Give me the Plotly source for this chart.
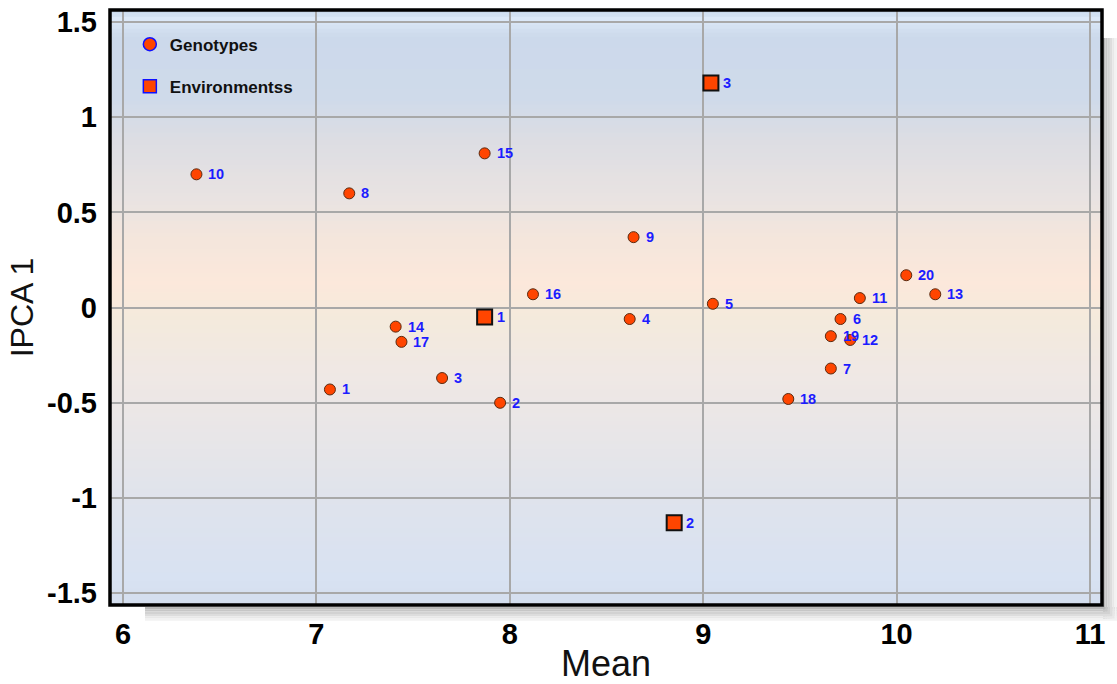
import plotly.graph_objects as go

# ---------------- data ----------------
geno_labels = ["1", "2", "3", "4", "5", "6", "7", "8", "9", "10",
               "11", "12", "13", "14", "15", "16", "17", "18", "19", "20"]
geno_mean = [7.07, 7.95, 7.65, 8.62, 9.05, 9.71, 9.66, 7.17, 8.64, 6.38,
             9.81, 9.76, 10.20, 7.41, 7.87, 8.12, 7.44, 9.44, 9.66, 10.05]
geno_ipca = [-0.43, -0.50, -0.37, -0.06, 0.02, -0.06, -0.32, 0.60, 0.37, 0.70,
             0.05, -0.17, 0.07, -0.10, 0.81, 0.07, -0.18, -0.48, -0.15, 0.17]

env_labels = ["1", "2", "3"]
env_mean = [7.87, 8.85, 9.04]
env_ipca = [-0.05, -1.13, 1.18]

x_ticks = [6, 7, 8, 9, 10, 11]
y_ticks = [-1.5, -1, -0.5, 0, 0.5, 1, 1.5]
y_tick_text = ["-1.5", "-1", "-0.5", "0", "0.5", "1", "1.5"]

W, H = 1117, 684
ML, MR, MT, MB = 110, 15, 10, 79
PW, PH = W - ML - MR, H - MT - MB

ORANGE = "#FF4500"
LABEL_BLUE = "#1C1CFF"
FONT = "Liberation Sans, Arial"

fig = go.Figure()

# legend-only dummies (blue outlines as in the reference legend)
fig.add_trace(go.Scatter(x=[None], y=[None], mode="markers", name="Genotypes",
                         legendgroup="g",
                         marker=dict(symbol="circle", size=13, color=ORANGE,
                                     line=dict(color="#1010FF", width=1.5))))
fig.add_trace(go.Scatter(x=[None], y=[None], mode="markers", name="Environmentss",
                         legendgroup="e",
                         marker=dict(symbol="square", size=13, color=ORANGE,
                                     line=dict(color="#1010FF", width=1.5))))

fig.add_trace(go.Scatter(x=geno_mean, y=geno_ipca, mode="markers", showlegend=False,
                         marker=dict(symbol="circle", size=11, color=ORANGE,
                                     line=dict(color="#5A2A10", width=1))))
fig.add_trace(go.Scatter(x=env_mean, y=env_ipca, mode="markers", showlegend=False,
                         marker=dict(symbol="square", size=15, color=ORANGE,
                                     line=dict(color="#111111", width=2))))

annotations = []
for xs, ys, ls in ((geno_mean, geno_ipca, geno_labels), (env_mean, env_ipca, env_labels)):
    for xv, yv, lab in zip(xs, ys, ls):
        annotations.append(dict(x=xv, y=yv, text=lab, showarrow=False,
                                xanchor="left", yanchor="middle", xshift=10,
                                font=dict(family=FONT, size=14.5,
                                          color=LABEL_BLUE, weight="bold")))

# ---------------- background gradient ----------------
def hex2rgb(h):
    h = h.lstrip("#")
    return tuple(int(h[i:i + 2], 16) for i in (0, 2, 4))

stops = [(10, "#C4D4E8"), (20, "#DCE9F8"), (38, "#CCD9EB"), (100, "#CFDAEA"),
         (140, "#DCDDE3"), (200, "#E9E3E2"), (240, "#F4E6DC"), (285, "#FCE8DB"),
         (320, "#F4EADC"), (370, "#F0E8E4"), (440, "#E8E6E8"), (500, "#DFE3EC"),
         (580, "#D8E2F2"), (605, "#D4DEEE")]

def color_at(py):
    for (p0, c0), (p1, c1) in zip(stops[:-1], stops[1:]):
        if p0 <= py <= p1:
            t = (py - p0) / (p1 - p0)
            a, b = hex2rgb(c0), hex2rgb(c1)
            return "rgb(%d,%d,%d)" % tuple(round(a[i] + (b[i] - a[i]) * t) for i in range(3))
    return stops[-1][1]

shapes = []
step = 4
py = MT
while py < MT + PH:
    y_top = 1 - (py - MT) / PH
    y_bot = max(0, 1 - (py + step - MT) / PH)
    shapes.append(dict(type="rect", xref="paper", yref="paper", x0=0, x1=1,
                       y0=y_bot, y1=y_top + 0.002, fillcolor=color_at(py + step / 2),
                       line=dict(width=0), layer="below"))
    py += step

# drop shadow (right and bottom)
def px_x(p):
    return (p - ML) / PW

def px_y(p):
    return 1 - (p - MT) / PH

shadow_cols = ["#B8B8B8", "#C6C6C6", "#D2D2D2", "#DDDDDD", "#E8E8E8", "#F2F2F2"]
for i, c in enumerate(shadow_cols):
    shapes.append(dict(type="rect", xref="paper", yref="paper",
                       x0=px_x(1103 + i * 2.3), x1=px_x(1103 + (i + 1) * 2.3),
                       y0=px_y(620), y1=px_y(38), fillcolor=c, line=dict(width=0),
                       layer="below"))
    shapes.append(dict(type="rect", xref="paper", yref="paper",
                       x0=px_x(145), x1=px_x(1117),
                       y0=px_y(607 + (i + 1) * 2.3), y1=px_y(607 + i * 2.3),
                       fillcolor=c, line=dict(width=0), layer="below"))

# frame
shapes.append(dict(type="rect", xref="paper", yref="paper", x0=0, x1=1, y0=0, y1=1,
                   line=dict(color="#000000", width=3.5), fillcolor="rgba(0,0,0,0)",
                   layer="above"))

tick_font = dict(family=FONT, size=29, color="#000000", weight="bold")

fig.update_layout(
    width=W, height=H,
    margin=dict(l=ML, r=MR, t=MT, b=MB, autoexpand=False),
    paper_bgcolor="#FFFFFF",
    plot_bgcolor="rgba(0,0,0,0)",
    shapes=shapes,
    annotations=annotations,
    showlegend=True,
    legend=dict(x=0.02, y=0.972, xanchor="left", yanchor="top",
                bgcolor="rgba(0,0,0,0)", borderwidth=0, tracegroupgap=17,
                font=dict(family=FONT, size=17, color="#111111", weight="bold")),
    xaxis=dict(range=[5.933, 11.062], tickvals=x_ticks, ticktext=[str(v) for v in x_ticks],
               showgrid=True, gridcolor="#A8A8A8", gridwidth=1.5, zeroline=False,
               showline=False, ticks="", tickfont=tick_font, ticklabelstandoff=9,
               automargin=False,
               title=dict(text="Mean", font=dict(family=FONT, size=36, color="#111111"),
                          standoff=2)),
    yaxis=dict(range=[-1.562, 1.563], tickvals=y_ticks, ticktext=y_tick_text,
               showgrid=True, gridcolor="#A8A8A8", gridwidth=1.5, zeroline=False,
               showline=False, ticks="", tickfont=tick_font, ticklabelstandoff=12,
               automargin=False,
               title=dict(text="IPCA 1", font=dict(family=FONT, size=32, color="#111111"),
                          standoff=3)),
)

fig.write_html("out.html")
